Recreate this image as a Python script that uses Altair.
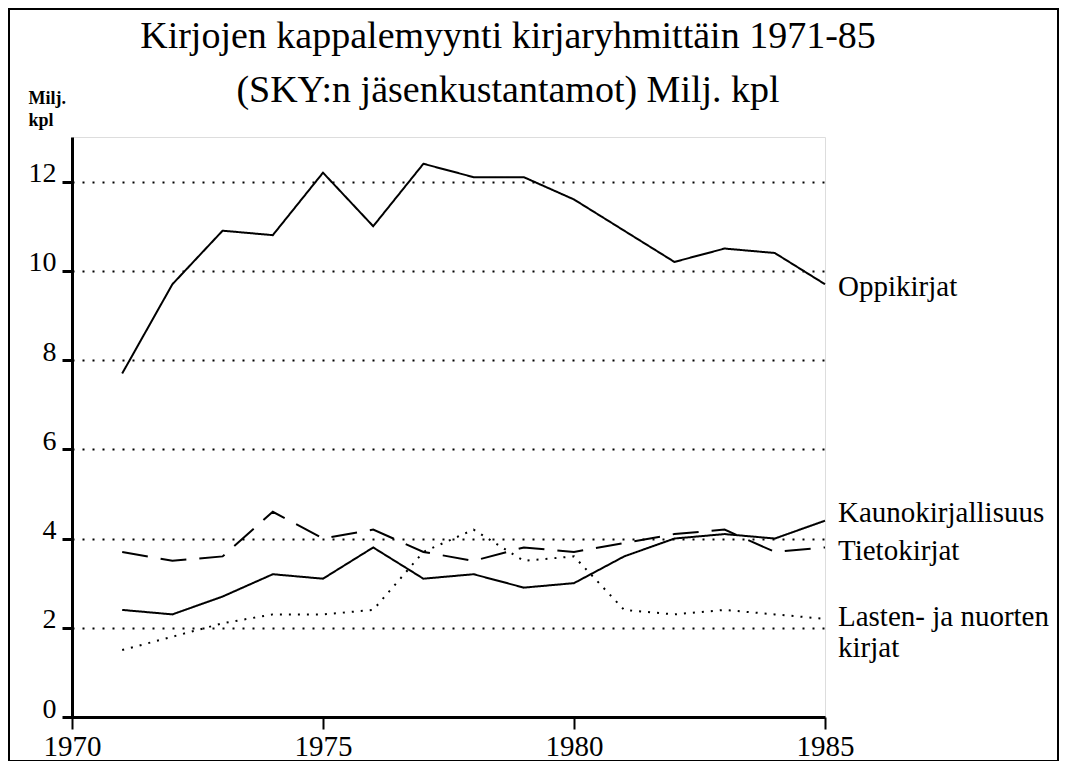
import altair as alt
import pandas as pd

# ---- data (millions of copies) ----
years = list(range(1971, 1986))
oppikirjat = [7.7, 9.7, 10.9, 10.8, 12.2, 11.0, 12.4, 12.1, 12.1, 11.6, 10.9, 10.2, 10.5, 10.4, 9.7]
kaunokirjallisuus = [2.4, 2.3, 2.7, 3.2, 3.1, 3.8, 3.1, 3.2, 2.9, 3.0, 3.6, 4.0, 4.1, 4.0, 4.4]
tietokirjat = [3.7, 3.5, 3.6, 4.6, 4.0, 4.2, 3.7, 3.5, 3.8, 3.7, 3.9, 4.1, 4.2, 3.7, 3.8]
lasten_nuorten = [1.5, 1.8, 2.1, 2.3, 2.3, 2.4, 3.7, 4.2, 3.5, 3.6, 2.4, 2.3, 2.4, 2.3, 2.2]

series_names = ["Oppikirjat", "Kaunokirjallisuus", "Tietokirjat", "Lasten- ja nuorten kirjat"]
series_labels = [["Oppikirjat"], ["Kaunokirjallisuus"], ["Tietokirjat"], ["Lasten- ja nuorten", "kirjat"]]
x_ticks = [1970, 1975, 1980, 1985]
y_ticks = [0, 2, 4, 6, 8, 10, 12]
title_lines = ["Kirjojen kappalemyynti kirjaryhmittäin 1971-85",
               "(SKY:n jäsenkustantamot) Milj. kpl"]
unit_lines = ["Milj.", "kpl"]

rows = []
for name, vals in zip(series_names, [oppikirjat, kaunokirjallisuus, tietokirjat, lasten_nuorten]):
    for yr, v in zip(years, vals):
        rows.append({"vuosi": yr, "arvo": v, "sarja": name})
df = pd.DataFrame(rows)

FONT = "'Liberation Serif', 'Times New Roman', Times, 'DejaVu Serif', serif"
W, H = 753, 580

x_enc = alt.X(
    "vuosi:Q",
    scale=alt.Scale(domain=[1970, 1985], nice=False, zero=False),
    axis=alt.Axis(values=x_ticks, format="d", title=None, grid=False,
                  domainColor="black", domainWidth=3,
                  tickColor="black", tickWidth=2, tickSize=12,
                  labelFont=FONT, labelFontSize=29, labelColor="black",
                  labelPadding=3, labelFlush=False),
)
y_enc = alt.Y(
    "arvo:Q",
    scale=alt.Scale(domain=[0, 13], nice=False),
    axis=alt.Axis(values=y_ticks, title=unit_lines, titleAngle=0,
                  titleAlign="left", titleBaseline="alphabetic",
                  titleX=-44, titleY=-34, titleFont=FONT, titleFontSize=18,
                  titleFontWeight="bold", titleColor="black", titleLineHeight=22,
                  grid=True, gridColor="black", gridDash=[2, 8], gridWidth=1.8,
                  gridOpacity=1,
                  domainColor="black", domainWidth=3,
                  tickColor="black", tickWidth=3, tickSize=10,
                  labelFont=FONT, labelFontSize=28, labelColor="black",
                  labelBaseline="alphabetic", labelPadding=6, labelFlush=False),
)

lines = alt.Chart(df).mark_line(color="black", strokeWidth=2).encode(
    x=x_enc,
    y=y_enc,
    detail="sarja:N",
    strokeDash=alt.StrokeDash(
        "sarja:N",
        scale=alt.Scale(domain=series_names,
                        range=[[1, 0], [1, 0], [26, 13], [2, 7]]),
        legend=None,
    ),
)

last = df[df["vuosi"] == years[-1]].copy()
last["nimi"] = [series_labels[series_names.index(s)] for s in last["sarja"]]
label_dy = [12, 1, 12.5, 7]

label_layers = []
for name, dy in zip(series_names, label_dy):
    label_layers.append(
        alt.Chart(last).transform_filter(alt.datum.sarja == name)
        .mark_text(align="left", baseline="alphabetic", dx=13, dy=dy,
                   font=FONT, fontSize=29, color="black", lineHeight=31)
        .encode(x="vuosi:Q", y="arvo:Q", text="nimi")
    )

one = pd.DataFrame({"k": [0]})
title_mark = alt.Chart(one).mark_text(
    text=title_lines, align="center", baseline="alphabetic",
    font=FONT, fontSize=38, color="black", lineHeight=54,
).encode(x=alt.value(436), y=alt.value(-89))

frame = alt.Chart(one).mark_rect(
    fill="transparent", stroke="black", strokeWidth=2,
).encode(x=alt.value(-63), x2=alt.value(986), y=alt.value(-128), y2=alt.value(624))

chart = alt.layer(frame, lines, *label_layers, title_mark).properties(
    width=W, height=H,
    autosize=alt.AutoSizeParams(type="none"),
    padding={"left": 64, "top": 129, "right": 234, "bottom": 44},
).configure_view(stroke=None).configure(background="white")

chart.save("out.html", embed_options={"renderer": "svg", "actions": False})
